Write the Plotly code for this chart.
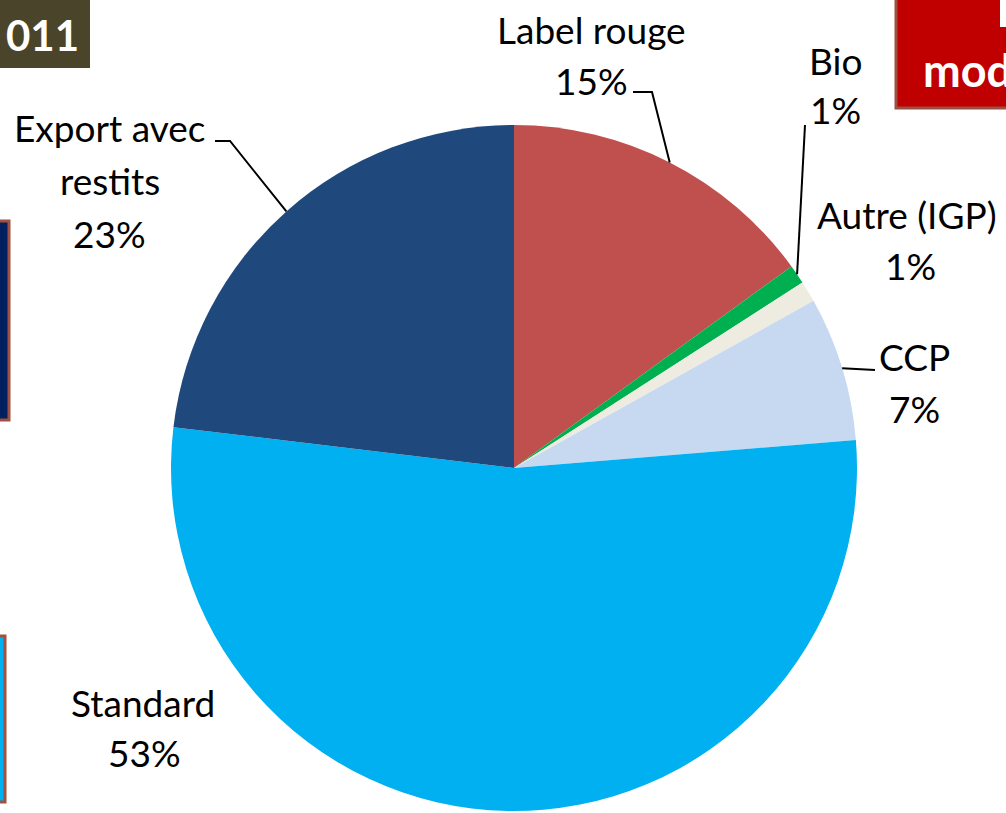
import math
import plotly.graph_objects as go

# ---- data ----
labels = ["Label rouge", "Bio", "Autre (IGP)", "CCP", "Standard", "Export avec restits"]
values = [15.0, 0.9, 1.0, 6.8, 53.2, 23.1]
colors = ["#C0504D", "#00B050", "#EEECE1", "#C6D9F1", "#00B0F0", "#1F497D"]
label_lines = [["Label rouge"], ["Bio"], ["Autre (IGP)"], ["CCP"], ["Standard"], ["Export avec", "restits"]]

W, H = 1006, 813
dom_x = [171 / W, 857 / W]
dom_y = [1 - 811 / H, 1 - 125 / H]

fig = go.Figure(go.Pie(
    labels=labels, values=values, sort=False, direction="clockwise", rotation=0,
    marker=dict(colors=colors, line=dict(color="white", width=0)),
    textinfo="none", hoverinfo="label+percent", showlegend=False,
    domain=dict(x=dom_x, y=dom_y),
))

# pie geometry (pixels) derived from domain
cx = (dom_x[0] + dom_x[1]) / 2 * W
cy = (1 - (dom_y[0] + dom_y[1]) / 2) * H
R = min((dom_x[1] - dom_x[0]) * W, (dom_y[1] - dom_y[0]) * H) / 2

def px2paper(x, y):
    return x / W, 1 - y / H

total = sum(values)
cum = 0
edge = []
for v in values:
    mid = (cum + v / 2) / total * 2 * math.pi
    edge.append((cx + R * math.sin(mid), cy - R * math.cos(mid)))
    cum += v

# label placement (pixel centers of each text line)
label_pos = {
    0: [(591, 30)],
    1: [(835, 60)],
    2: [(907, 215)],
    3: [(914, 356)],
    4: [(143, 702)],
    5: [(110, 128), (110, 180)],
}
pct_pos = {0: (591, 80), 1: (835, 110), 2: (910, 265), 3: (914, 408), 4: (144, 752), 5: (109, 233)}

FONT = dict(family="Lato, Carlito, sans-serif", size=37, color="black")
annotations = []
for i in range(len(labels)):
    for text, (x, y) in zip(label_lines[i], label_pos[i]):
        px, py = px2paper(x, y)
        annotations.append(dict(x=px, y=py, xref="paper", yref="paper", text=text,
                                showarrow=False, font=FONT, xanchor="center", yanchor="middle"))
    pct = round(values[i] / total * 100)
    px, py = px2paper(*pct_pos[i])
    annotations.append(dict(x=px, y=py, xref="paper", yref="paper", text=f"{pct}%",
                            showarrow=False, font=FONT, xanchor="center", yanchor="middle"))

# leader lines: label-side points, ending at slice mid-angle on pie edge
leaders = {
    0: [(633, 92), (652, 92)],
    1: [(805, 125)],
    3: [(875, 370)],
    5: [(215, 141), (230, 141)],
}
shapes = []
for i, pts in leaders.items():
    allpts = pts + [edge[i]]
    path = ""
    for k, (x, y) in enumerate(allpts):
        px, py = px2paper(x, y)
        path += ("M" if k == 0 else "L") + f"{px},{py} "
    shapes.append(dict(type="path", path=path, xref="paper", yref="paper",
                       line=dict(color="black", width=2)))

def rect(x0, y0, x1, y1, fill, line_color=None, lw=0):
    a, b = px2paper(x0, y0)
    c, d = px2paper(x1, y1)
    return dict(type="rect", xref="paper", yref="paper", x0=a, y0=d, x1=c, y1=b,
                fillcolor=fill, line=dict(color=line_color or fill, width=lw), layer="above")

# slide fragments around the chart
shapes += [
    rect(-5, -5, 90, 68, "#4A442A"),
    rect(896, -5, 1010, 108, "#C00000", "#9C5040", 3),
    rect(1000, -5, 1010, 27, "white"),
    rect(-5, 221, 9, 420, "#002060", "#A0513F", 3),
    rect(-5, 636, 5, 802, "#00B0F0", "#A0513F", 3),
]
px, py = px2paper(42, 35)
annotations.append(dict(x=px, y=py, xref="paper", yref="paper", text="<b>011</b>", showarrow=False,
                        font=dict(family="Lato, sans-serif", size=42, color="white"),
                        xanchor="center", yanchor="middle"))
px, py = px2paper(921, 70)
annotations.append(dict(x=px, y=py, xref="paper", yref="paper", text="<b>mod</b>", showarrow=False,
                        font=dict(family="Lato, sans-serif", size=45, color="white"),
                        xanchor="left", yanchor="middle"))

fig.update_layout(width=W, height=H, margin=dict(l=0, r=0, t=0, b=0),
                  paper_bgcolor="white", plot_bgcolor="white",
                  annotations=annotations, shapes=shapes)
fig.write_html("out.html", config={"displayModeBar": False},
               post_script="document.body.style.margin='0';document.body.style.overflow='hidden';")
